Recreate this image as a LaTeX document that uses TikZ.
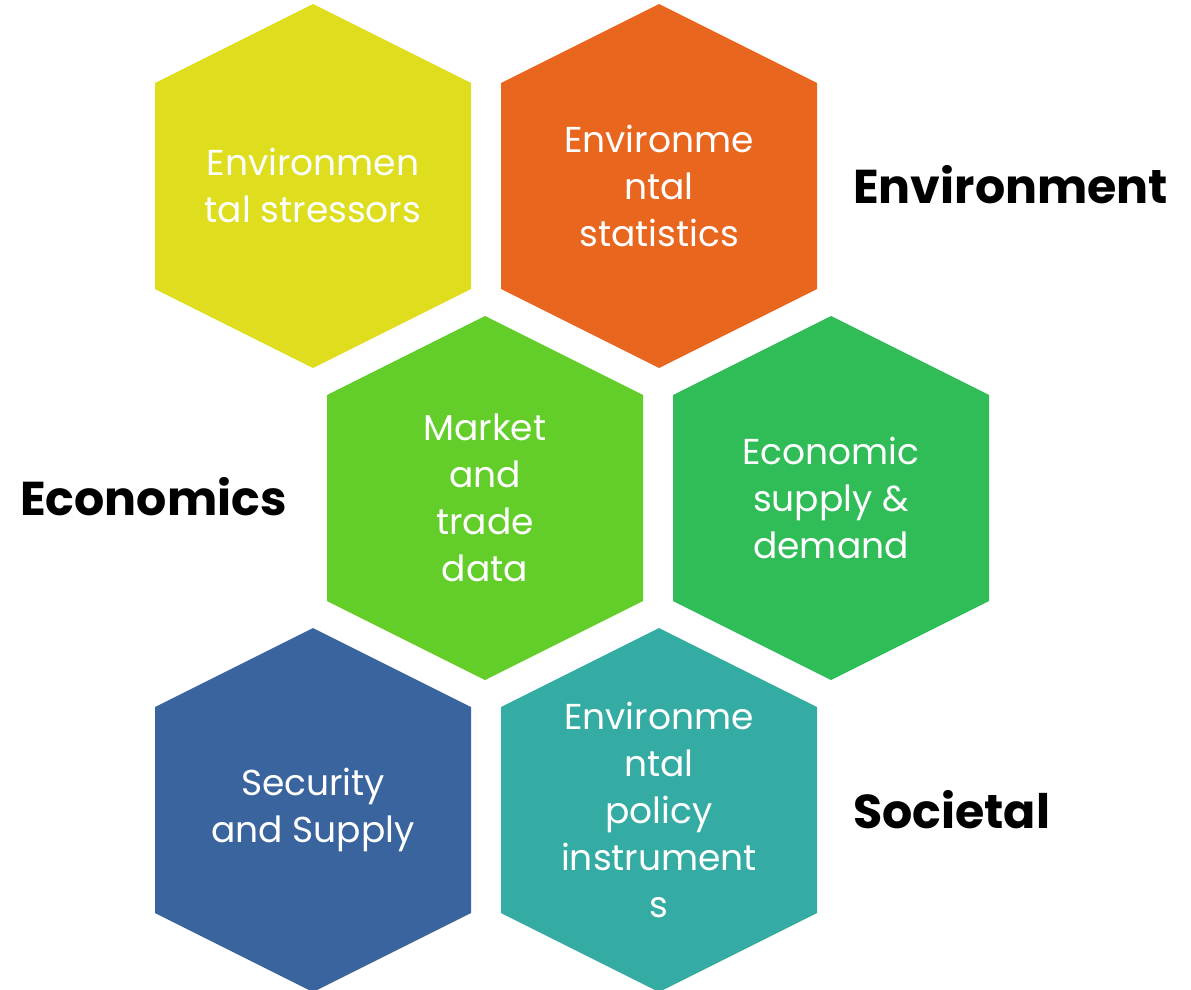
\documentclass[tikz,border=0pt]{standalone}
\usepackage{fontspec}
\setmainfont{Poppins}
\definecolor{hexyellow}{HTML}{DEDE1F}
\definecolor{hexorange}{HTML}{E9661F}
\definecolor{hexlime}{HTML}{63CE29}
\definecolor{hexgreen}{HTML}{30BD58}
\definecolor{hexblue}{HTML}{3A649E}
\definecolor{hexteal}{HTML}{34ACA3}
% one hexagon cell around a centre coordinate
\newcommand{\hexcell}[2]{%
  \fill [#2] (#1) ++(0,-181.5) -- ++(158,79) -- ++(0,206) -- ++(-158,79)
    -- ++(-158,-79) -- ++(0,-206) -- cycle;%
}
\tikzset{
  celltext/.style={text=white, align=center, inner sep=0pt,
    font=\fontsize{36}{47}\selectfont},
  sidelabel/.style={text=black, inner sep=0pt,
    font=\fontsize{47.5}{56}\selectfont\bfseries}
}
\begin{document}
\begin{tikzpicture}[x=1pt,y=-1pt]
                \useasboundingbox (0,0) rectangle (1191,990);
                
                % Centres of the cells
                \coordinate (cA) at (313,185.5);
                \coordinate (cB) at (659,185.5);
                \coordinate (cC) at (485,497.5);
                \coordinate (cD) at (831,497.5);
                \coordinate (cE) at (313,809.5);
                \coordinate (cF) at (659,809.5);
                
                % Drawing the cells
                \hexcell{cA}{hexyellow}
                \hexcell{cB}{hexorange}
                \hexcell{cC}{hexlime}
                \hexcell{cD}{hexgreen}
                \hexcell{cE}{hexblue}
                \hexcell{cF}{hexteal}
                
                % Cell texts
                \node [celltext] (stressors) at (cA) {Environmen\\tal stressors};
                \node [celltext] (statistics) at (cB) {Environme\\ntal\\statistics};
                \node [celltext] (market) at (cC) {Market\\and\\trade\\data};
                \node [celltext] (supplydemand) at (cD) {Economic\\supply \&\\demand};
                \node [celltext] (security) at (cE) {Security\\and Supply};
                \node [celltext] (policy) at (cF) {Environme\\ntal\\policy\\instrument\\s};
                
                % Side labels
                \node [sidelabel, anchor=west] (environment) at (853,185) {Environment};
                \node [sidelabel, anchor=west] (economics) at (20,497) {Economics};
                \node [sidelabel, anchor=west] (societal) at (853,810) {Societal};
\end{tikzpicture}
\end{document}
